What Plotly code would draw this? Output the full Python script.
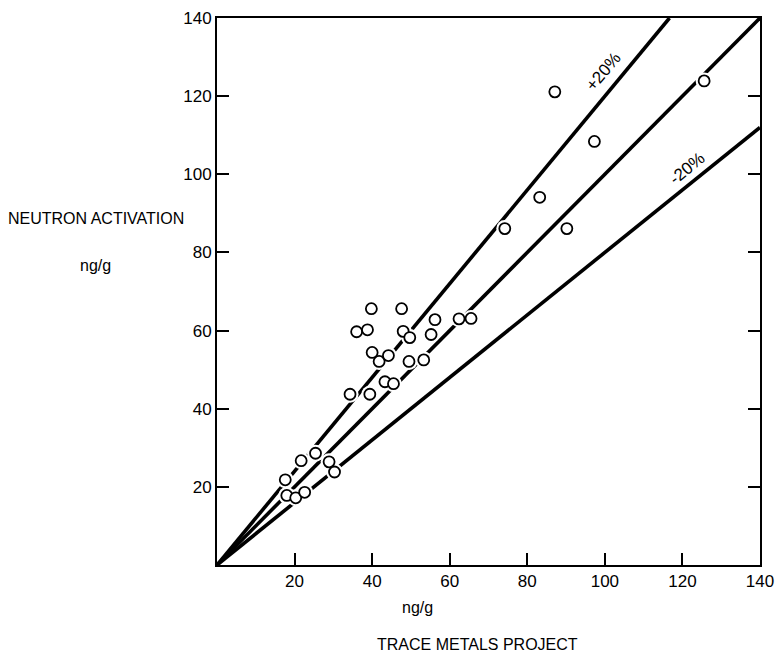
import plotly.graph_objects as go

# Paired determinations (ng/g): Trace Metals Project vs. neutron activation
trace_metals = [39.8, 47.6, 36.0, 38.8, 48.0, 49.7, 56.2, 55.2, 62.4, 65.5,
                40.0, 41.8, 44.2, 49.5, 53.3, 43.3, 45.5, 34.3, 39.4,
                25.4, 21.7, 28.9, 30.3, 17.6, 18.0, 20.3, 22.6,
                87.1, 125.6, 97.3, 83.2, 74.2, 90.2]
neutron_act = [65.6, 65.6, 59.7, 60.2, 59.8, 58.2, 62.8, 59.0, 63.0, 63.1,
               54.4, 52.1, 53.6, 52.1, 52.5, 46.9, 46.4, 43.7, 43.7,
               28.6, 26.7, 26.4, 23.8, 21.8, 17.8, 17.2, 18.6,
               121.1, 123.9, 108.4, 94.1, 86.1, 86.1]

# Reference lines: agreement and +/-20 % bands
line_slopes = [1.2, 1.0, 0.8]
tick_vals = [20, 40, 60, 80, 100, 120, 140]
tick_text = ["20", "40", "60", "80", "100", "120", "140"]

FONT = "Liberation Sans, Arial, sans-serif"
W, H = 777, 652
L, R, T, B = 217, 17, 18, 87

fig = go.Figure()

for s in line_slopes:
    x_end = min(140, 140 / s)
    fig.add_trace(go.Scatter(x=[0, x_end], y=[0, s * x_end], mode="lines",
                             line=dict(color="black", width=3.6),
                             hoverinfo="skip", showlegend=False))

# white halo breaks the lines around each point
fig.add_trace(go.Scatter(x=trace_metals, y=neutron_act, mode="markers",
                         marker=dict(size=17, color="white", line=dict(width=0)),
                         hoverinfo="skip", showlegend=False))
fig.add_trace(go.Scatter(x=trace_metals, y=neutron_act, mode="markers",
                         marker=dict(size=11, color="white",
                                     line=dict(color="black", width=1.8)),
                         showlegend=False))

fig.add_annotation(x=99.6, y=126.4, text="+20%", showarrow=False, textangle=-50,
                   font=dict(family=FONT, size=17, color="black"))
fig.add_annotation(x=121.2, y=101.6, text="-20%", showarrow=False, textangle=-39,
                   font=dict(family=FONT, size=17, color="black"))

# axis titles, placed in pixel terms relative to the plot area
pw, ph = W - L - R, H - T - B
for txt, px, py in [("NEUTRON ACTIVATION", 96, 218), ("ng/g", 96, 265),
                    ("ng/g", 417, 607), ("TRACE METALS PROJECT", 477, 644)]:
    fig.add_annotation(x=(px - L) / pw, y=(H - B - py) / ph,
                       xref="paper", yref="paper", text=txt, showarrow=False,
                       xanchor="center", yanchor="middle",
                       font=dict(family=FONT, size=16, color="black"))

axis_common = dict(range=[0, 140], tickvals=tick_vals, ticktext=tick_text,
                   ticks="inside", ticklen=12, tickwidth=2, tickcolor="black",
                   showline=True, linecolor="black", linewidth=2,
                   showgrid=False, zeroline=False, automargin=False,
                   tickfont=dict(family=FONT, size=17, color="black"))

fig.update_xaxes(**axis_common, mirror=True)
fig.update_yaxes(**axis_common, mirror="ticks")

fig.update_layout(width=W, height=H,
                  margin=dict(l=L, r=R, t=T, b=B),
                  paper_bgcolor="white", plot_bgcolor="white",
                  showlegend=False)

fig.write_html("out.html")
